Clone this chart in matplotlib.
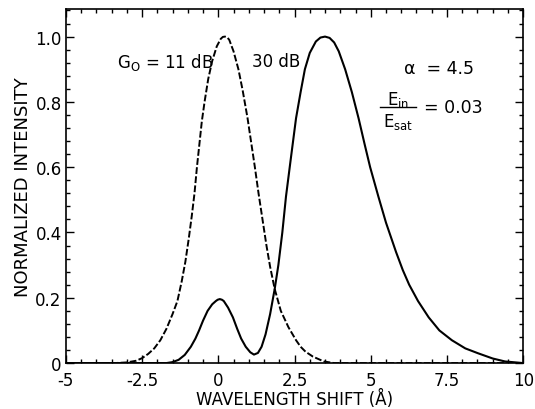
import numpy as np
import matplotlib.pyplot as plt
from matplotlib.ticker import MultipleLocator

plt.rcParams['font.family'] = ['DejaVu Sans']
plt.rcParams['mathtext.fontset'] = 'dejavusans'

# G0 = 11 dB curve (dashed)
x_11db = [-5.0, -3.4, -3.0, -2.7, -2.5, -2.3, -2.1, -1.9, -1.7, -1.5, -1.34, -1.2, -1.08,
          -0.97, -0.87, -0.78, -0.7, -0.62, -0.54, -0.45, -0.33, -0.2, -0.05, 0.08, 0.15,
          0.22, 0.29, 0.36, 0.5, 0.66, 0.8, 0.96, 1.08, 1.2, 1.32, 1.45, 1.58, 1.7, 1.85,
          2.05, 2.3, 2.55, 2.7, 2.86, 3.1, 3.46, 3.8, 10.0]
y_11db = [0.0, 0.0, 0.002, 0.007, 0.015, 0.028, 0.045, 0.07, 0.105, 0.15, 0.19, 0.25, 0.31,
          0.38, 0.45, 0.52, 0.6, 0.67, 0.74, 0.8, 0.87, 0.925, 0.97, 0.993, 0.999,
          1.0, 0.998, 0.99, 0.955, 0.9, 0.835, 0.75, 0.675, 0.6, 0.52, 0.44, 0.36, 0.295, 0.227,
          0.16, 0.11, 0.07, 0.05, 0.035, 0.02, 0.005, 0.0, 0.0]

# G0 = 30 dB curve (solid)
x_30db = [-5.0, -1.7, -1.5, -1.3, -1.1, -0.9, -0.75, -0.63, -0.5, -0.35, -0.2, -0.08, -0.02,
          0.05, 0.12, 0.18, 0.32, 0.48, 0.62, 0.75, 0.9, 1.05, 1.17, 1.3, 1.42, 1.55, 1.7,
          1.85, 1.97, 2.1, 2.22, 2.37, 2.55, 2.7, 2.84, 3.0, 3.2, 3.35, 3.5, 3.65, 3.8,
          3.95, 4.16, 4.38, 4.6, 4.8, 4.98, 5.25, 5.5, 5.83, 6.05, 6.26, 6.55, 6.9, 7.25,
          7.66, 8.1, 8.52, 9.0, 9.4, 10.0]
y_30db = [0.0, 0.0, 0.003, 0.01, 0.025, 0.05, 0.075, 0.1, 0.13, 0.16, 0.18, 0.19, 0.194,
          0.196, 0.194, 0.19, 0.17, 0.14, 0.105, 0.075, 0.05, 0.033, 0.026, 0.031, 0.05, 0.088, 0.15,
          0.227, 0.3, 0.4, 0.51, 0.62, 0.75, 0.83, 0.9, 0.95, 0.985, 0.997, 1.0, 0.996, 0.982,
          0.955, 0.9, 0.83, 0.75, 0.67, 0.6, 0.51, 0.43, 0.34, 0.285, 0.24, 0.19, 0.14, 0.1,
          0.07, 0.045, 0.03, 0.014, 0.005, 0.0]

x_ticks = [-5, -2.5, 0, 2.5, 5, 7.5, 10]
x_labels = ['-5', '-2.5', '0', '2.5', '5', '7.5', '10']
y_ticks = [0, 0.2, 0.4, 0.6, 0.8, 1.0]
y_labels = ['0', '0.2', '0.4', '0.6', '0.8', '1.0']

fig = plt.figure(figsize=(5.35, 4.10), dpi=100)
ax = fig.add_axes([0.123, 0.112, 0.855, 0.864])

ax.plot(x_11db, y_11db, color='black', lw=1.4, linestyle=(0, (3.5, 1.2)))
ax.plot(x_30db, y_30db, color='black', lw=1.5)

ax.set_xlim(-5, 10)
ax.set_ylim(0, 1.085)
ax.set_xticks(x_ticks)
ax.set_xticklabels(x_labels)
ax.set_yticks(y_ticks)
ax.set_yticklabels(y_labels)
ax.xaxis.set_minor_locator(MultipleLocator(0.5))
ax.yaxis.set_minor_locator(MultipleLocator(0.04))
ax.tick_params(which='both', direction='in', top=True, right=True, labelsize=12, width=1.0)
ax.tick_params(which='major', length=6)
ax.tick_params(which='minor', length=3)
ax.tick_params(axis='y', pad=3)
ax.tick_params(axis='x', pad=6)
for s in ax.spines.values():
    s.set_linewidth(1.2)

ax.set_xlabel('WAVELENGTH SHIFT (Å)', fontsize=12, labelpad=0)
ax.set_ylabel('NORMALIZED INTENSITY', fontsize=13, labelpad=2)

ax.text(-3.33, 0.925, r'G$_{\mathrm{O}}$ = 11 dB', fontsize=12, va='center')
ax.text(1.09, 0.925, '30 dB', fontsize=12, va='center')
ax.text(6.1, 0.905, 'α  = 4.5', fontsize=12.5, va='center')
ax.text(5.9, 0.81, r'E$_{\mathrm{in}}$', fontsize=12, va='center', ha='center')
ax.plot([5.3, 6.5], [0.784, 0.784], color='black', lw=1.0)
ax.text(5.9, 0.74, r'E$_{\mathrm{sat}}$', fontsize=12, va='center', ha='center')
ax.text(6.75, 0.784, '= 0.03', fontsize=12.5, va='center')

fig.savefig('out.png', dpi=100)
